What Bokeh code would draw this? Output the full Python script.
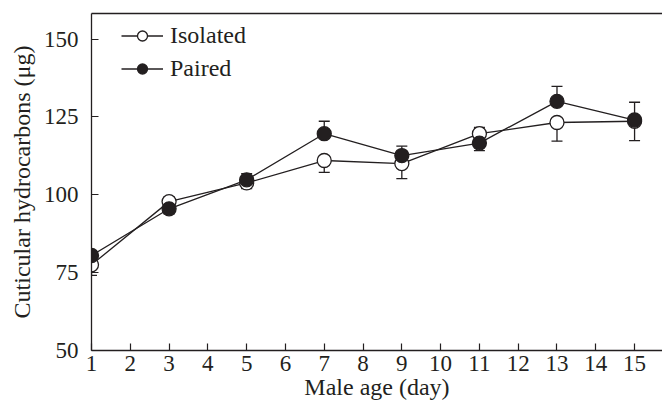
from bokeh.plotting import figure
from bokeh.models import LinearAxis, FixedTicker, Range1d, Legend, LegendItem
from bokeh.embed import file_html
from bokeh.resources import INLINE

days = [1, 3, 5, 7, 9, 11, 13, 15]
isolated = [77.5, 97.8, 103.8, 111.0, 110.0, 119.6, 123.2, 123.6]
isolated_se = [3.4, 1.5, 1.8, 3.8, 4.8, 2.0, 6.0, 6.2]
paired = [80.5, 95.5, 104.8, 119.6, 112.6, 116.6, 130.0, 124.0]
paired_se = [1.5, 1.6, 2.0, 4.0, 3.0, 2.4, 4.8, 5.7]

x_ticks = list(range(1, 16))
y_ticks = [50, 75, 100, 125, 150]

FONT = "Liberation Serif"
INK = "#231f20"

p = figure(width=662, height=408, output_backend="svg", toolbar_location=None,
           x_range=Range1d(1, 15.72), y_range=Range1d(50, 158.2),
           min_border_left=91, min_border_right=0, min_border_top=13, min_border_bottom=58,
           x_axis_label="Male age (day)", y_axis_label="Cuticular hydrocarbons (μg)")
p.grid.visible = False
p.outline_line_color = None
p.background_fill_color = "white"
p.border_fill_color = "white"

for ax, ticks in ((p.xaxis[0], x_ticks), (p.yaxis[0], y_ticks)):
    ax.ticker = FixedTicker(ticks=ticks)
    ax.major_tick_in = 7
    ax.major_tick_out = 0
    ax.minor_tick_line_color = None
    ax.axis_line_color = INK
    ax.axis_line_width = 1.3
    ax.major_tick_line_color = INK
    ax.major_tick_line_width = 1.2
    ax.major_label_text_font = FONT
    ax.major_label_text_font_size = "23px"
    ax.major_label_text_color = INK
    ax.axis_label_text_font = FONT
    ax.axis_label_text_font_size = "24px"
    ax.axis_label_text_font_style = "normal"
    ax.axis_label_text_color = INK

p.xaxis.major_label_standoff = 5
p.xaxis.axis_label_standoff = 0
p.yaxis.major_label_standoff = 13
p.yaxis.axis_label_standoff = 6

# top frame line only (no ticks, no labels)
top = LinearAxis(ticker=FixedTicker(ticks=[]), major_tick_line_color=None,
                 minor_tick_line_color=None, axis_line_color=INK, axis_line_width=1.3)
p.add_layout(top, "above")

# one-sided error bars: the higher series shows its upper bar, the lower its lower bar
def bars(vals, se, other):
    lo, hi = [], []
    for v, e, o in zip(vals, se, other):
        if v >= o:
            lo.append(v); hi.append(v + e)
        else:
            lo.append(v - e); hi.append(v)
    return lo, hi

iso_lo, iso_hi = bars(isolated, isolated_se, paired)
pai_lo, pai_hi = bars(paired, paired_se, isolated)

l_iso = p.line(days, isolated, line_color=INK, line_width=1.3)
l_pai = p.line(days, paired, line_color=INK, line_width=1.3)

for lo, hi in ((iso_lo, iso_hi), (pai_lo, pai_hi)):
    p.segment(days, lo, days, hi, line_color=INK, line_width=1.3)
    p.scatter(days, lo, marker="dash", size=11, line_color=INK, line_width=1.3)
    p.scatter(days, hi, marker="dash", size=11, line_color=INK, line_width=1.3)

s_iso = p.scatter(days, isolated, marker="circle", size=14, fill_color="white",
                  line_color=INK, line_width=1.3)
s_pai = p.scatter(days, paired, marker="circle", size=14, fill_color=INK,
                  line_color=INK, line_width=1.3)

legend = Legend(items=[LegendItem(label="Isolated", renderers=[l_iso, s_iso]),
                       LegendItem(label="Paired", renderers=[l_pai, s_pai])],
                location=(30, 268), padding=0, margin=0, spacing=6,
                glyph_width=42, glyph_height=25, label_height=25, label_standoff=7,
                label_text_font=FONT, label_text_font_size="24px", label_text_color=INK,
                border_line_color=None, background_fill_alpha=0)
p.add_layout(legend, "center")

open("out.html", "w").write(file_html(p, INLINE))
